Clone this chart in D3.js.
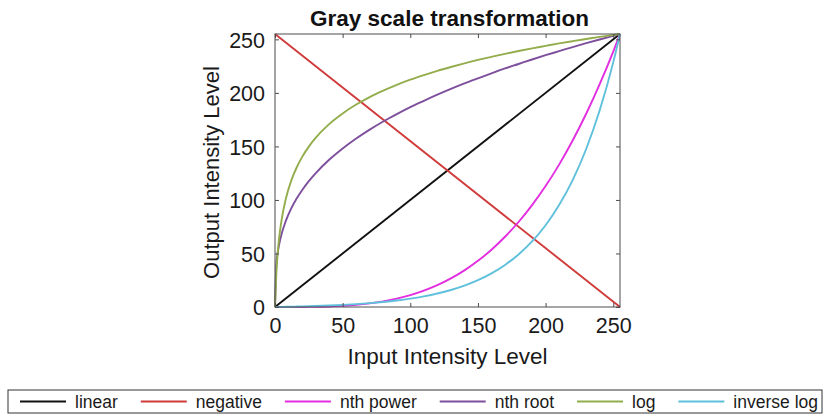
<!DOCTYPE html>
<html lang="en">

<head>
    <meta charset="UTF-8">
    <script src="https://cdnjs.cloudflare.com/ajax/libs/d3/7.8.5/d3.min.js"></script>
    <title>Gray scale transformation</title>
    <style>
        body { margin: 0; background: #fff; }
        text { font-family: "Liberation Sans", Arial, Helvetica, sans-serif; }
    </style>
</head>

<body>
    <script>
        var inputLevels = [0, 1, 2, 3, 5, 8, 12, 16, 20, 25, 30, 40, 50, 60, 70, 80, 90, 100, 110, 120,
            130, 140, 150, 160, 170, 180, 190, 200, 210, 220, 230, 240, 250, 255];
        // straight lines only need their two ends
        var lineEnds = [0, 255];
        var linearOut = [0, 255];
        var negativeOut = [255, 0];
        var nthPowerOut = [0, 0, 0, 0, 0, 0, 0, 0, 0.05, 0.1, 0.2, 0.5, 1.1, 2.0, 3.4, 5.3, 7.8, 11.1, 15.3, 20.4,
            26.7, 34.2, 43.1, 53.5, 65.6, 79.4, 95.2, 113.0, 133.0, 155.5, 180.5, 208.2, 238.6, 255];
        var nthRootOut = [0, 40.2, 50.7, 58.0, 68.8, 80.4, 92.1, 101.3, 109.1, 117.6, 124.9, 137.5, 148.1, 157.4, 165.7, 173.3, 180.2, 186.7, 192.6, 198.3,
            203.7, 208.8, 213.6, 218.3, 222.8, 227.0, 231.2, 235.2, 239.0, 242.8, 246.4, 249.9, 253.3, 255];
        var logOut = [0, 31.9, 50.5, 63.8, 82.4, 101.1, 118.0, 130.3, 140.0, 149.8, 157.9, 170.8, 180.8, 189.1, 196.1, 202.1, 207.5, 212.3, 216.6, 220.6,
            224.2, 227.6, 230.8, 233.7, 236.5, 239.1, 241.6, 243.9, 246.2, 248.3, 250.3, 252.3, 254.1, 255];
        var inverseLogOut = [0, 0.02, 0.04, 0.07, 0.11, 0.19, 0.3, 0.42, 0.54, 0.72, 0.92, 1.39, 1.97, 2.69, 3.58, 4.69, 6.08, 7.8, 9.93, 12.59,
            15.89, 19.99, 25.09, 31.43, 39.3, 49.09, 61.25, 76.38, 95.17, 118.5, 147.6, 183.7, 228.5, 255];
        var tickValues = [0, 50, 100, 150, 200, 250];
        var seriesNames = ['linear', 'negative', 'nth power', 'nth root', 'log', 'inverse log'];
        var seriesColors = ['#111111', '#d03a3a', '#e22ee0', '#7d4f9c', '#93ad4c', '#5fc0dc'];

        var width = 831, height = 415;
        var plot = { left: 275, right: 620, top: 34, bottom: 307 };

        var svg = d3.select('body').append('svg')
            .attr('width', width)
            .attr('height', height);

        var x = d3.scaleLinear().domain([0, 255]).range([plot.left, plot.right]);
        var y = d3.scaleLinear().domain([0, 255]).range([plot.bottom, plot.top]);

        var series = [
            { xs: lineEnds, ys: linearOut },
            { xs: lineEnds, ys: negativeOut },
            { xs: inputLevels, ys: nthPowerOut },
            { xs: inputLevels, ys: nthRootOut },
            { xs: inputLevels, ys: logOut },
            { xs: inputLevels, ys: inverseLogOut }
        ];

        var line = d3.line()
            .x(function (d) { return x(d[0]); })
            .y(function (d) { return y(d[1]); })
            .curve(d3.curveMonotoneX);

        svg.append('defs').append('clipPath').attr('id', 'clip')
            .append('rect')
            .attr('x', plot.left - 2).attr('y', plot.top - 2)
            .attr('width', plot.right - plot.left + 4).attr('height', plot.bottom - plot.top + 4);

        // curves, drawn in legend order
        svg.append('g').attr('clip-path', 'url(#clip)')
            .selectAll('path')
            .data(series)
            .enter().append('path')
            .attr('d', function (s) { return line(s.xs.map(function (v, i) { return [v, s.ys[i]]; })); })
            .attr('fill', 'none')
            .attr('stroke', function (s, i) { return seriesColors[i]; })
            .attr('stroke-width', 1.9);

        // axes box with inward ticks on all four sides (matlab style)
        var axisColor = '#4d4d4d';
        var bottomAxis = svg.append('g')
            .attr('transform', 'translate(0,' + plot.bottom + ')')
            .call(d3.axisBottom(x).tickValues(tickValues).tickSizeInner(-4).tickSizeOuter(0).tickPadding(11));
        var leftAxis = svg.append('g')
            .attr('transform', 'translate(' + plot.left + ',0)')
            .call(d3.axisLeft(y).tickValues(tickValues).tickSizeInner(-4).tickSizeOuter(0).tickPadding(10));
        var topAxis = svg.append('g')
            .attr('transform', 'translate(0,' + plot.top + ')')
            .call(d3.axisTop(x).tickValues(tickValues).tickSizeInner(-4).tickSizeOuter(0).tickFormat(''));
        var rightAxis = svg.append('g')
            .attr('transform', 'translate(' + plot.right + ',0)')
            .call(d3.axisRight(y).tickValues(tickValues).tickSizeInner(-4).tickSizeOuter(0).tickFormat(''));

        [bottomAxis, leftAxis, topAxis, rightAxis].forEach(function (g) {
            g.select('.domain').remove();
            g.selectAll('line').attr('stroke', axisColor);
            g.selectAll('text')
                .attr('fill', '#1a1a1a')
                .style('font-size', '21.5px')
                .style('font-family', '"Liberation Sans", Arial, sans-serif');
        });
        leftAxis.selectAll('text').attr('dy', '0.36em');

        svg.append('rect')
            .attr('x', plot.left).attr('y', plot.top)
            .attr('width', plot.right - plot.left).attr('height', plot.bottom - plot.top)
            .attr('fill', 'none')
            .attr('stroke', axisColor)
            .attr('stroke-width', 1);

        // title and axis labels
        svg.append('text')
            .attr('x', (plot.left + plot.right) / 2 + 2)
            .attr('y', 26)
            .attr('text-anchor', 'middle')
            .attr('font-weight', 'bold')
            .attr('font-size', 22.5)
            .attr('fill', '#111')
            .text('Gray scale transformation');

        svg.append('text')
            .attr('x', (plot.left + plot.right) / 2)
            .attr('y', 364)
            .attr('text-anchor', 'middle')
            .attr('font-size', 22.5)
            .attr('fill', '#1a1a1a')
            .text('Input Intensity Level');

        svg.append('text')
            .attr('transform', 'translate(219,' + ((plot.top + plot.bottom) / 2 + 2) + ') rotate(-90)')
            .attr('text-anchor', 'middle')
            .attr('font-size', 22)
            .attr('fill', '#1a1a1a')
            .text('Output Intensity Level');

        // horizontal legend at the bottom
        var legendBox = { x: 8, y: 390, w: 814, h: 23 };
        svg.append('rect')
            .attr('x', legendBox.x).attr('y', legendBox.y)
            .attr('width', legendBox.w).attr('height', legendBox.h)
            .attr('fill', '#fff')
            .attr('stroke', '#333')
            .attr('stroke-width', 1);

        var items = svg.append('g').selectAll('g')
            .data(seriesNames)
            .enter().append('g');
        items.append('text')
            .attr('font-size', 17.5)
            .attr('fill', '#1a1a1a')
            .attr('dy', '0.35em')
            .text(function (d) { return d; });

        var lineLen = 46, gap = 9;
        var widths = [];
        items.selectAll('text').each(function () { widths.push(this.getComputedTextLength()); });
        var used = d3.sum(widths) + seriesNames.length * (lineLen + gap);
        var startX = 20, endX = 818;
        var between = (endX - startX - used) / (seriesNames.length - 1);
        var cx = startX;
        items.each(function (d, i) {
            var g = d3.select(this).attr('transform', 'translate(' + cx + ',' + (legendBox.y + legendBox.h / 2) + ')');
            g.append('line')
                .attr('x1', 0).attr('x2', lineLen)
                .attr('stroke', seriesColors[i])
                .attr('stroke-width', 1.9);
            g.select('text').attr('x', lineLen + gap);
            cx += lineLen + gap + widths[i] + between;
        });
    </script>

</body>

</html>
